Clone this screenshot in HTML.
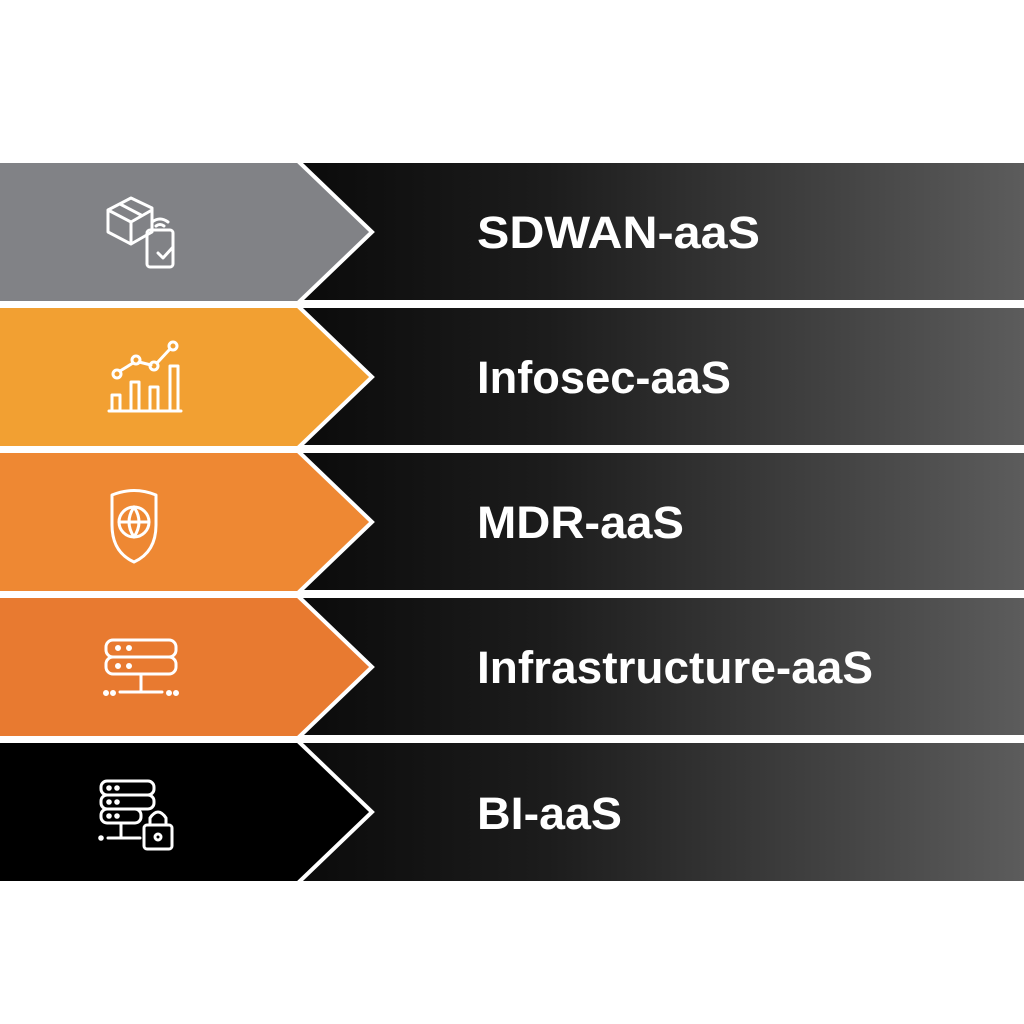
<!DOCTYPE html>
<html><head><style>html,body{margin:0;padding:0;background:#fff;}svg{display:block}</style></head>
<body>
<svg width="1024" height="1024" viewBox="0 0 1024 1024" xmlns="http://www.w3.org/2000/svg">
<defs>
<linearGradient id="g" x1="0" x2="1" y1="0" y2="0">
<stop offset="0" stop-color="#0a0a0a"/><stop offset="0.35" stop-color="#1c1c1c"/><stop offset="1" stop-color="#5c5c5c"/>
</linearGradient>
</defs>
<rect width="1024" height="1024" fill="#fff"/>
<g>
<rect x="290" y="163" width="734" height="137" fill="url(#g)"/>
<rect x="290" y="308" width="734" height="137" fill="url(#g)"/>
<rect x="290" y="453" width="734" height="137" fill="url(#g)"/>
<rect x="290" y="598" width="734" height="137" fill="url(#g)"/>
<rect x="290" y="743" width="734" height="138" fill="url(#g)"/>
</g>
<g stroke="#fff" stroke-width="4" stroke-linejoin="miter">
<polygon points="-5,161 298,161 372,232 298,303 -5,303" fill="#818286"/>
<polygon points="-5,306 298,306 372,377 298,448 -5,448" fill="#f2a032"/>
<polygon points="-5,451 298,451 372,522 298,593 -5,593" fill="#ee8833"/>
<polygon points="-5,596 298,596 372,667 298,738 -5,738" fill="#e87a30"/>
<polygon points="-5,741 298,741 372,812 298,883 -5,883" fill="#000"/>
</g>
<g font-family="Liberation Sans, sans-serif" font-weight="bold" font-size="45" fill="#fff">
<text x="477" y="248" textLength="283" lengthAdjust="spacingAndGlyphs">SDWAN-aaS</text>
<text x="477" y="393" textLength="254" lengthAdjust="spacingAndGlyphs">Infosec-aaS</text>
<text x="477" y="538" textLength="207" lengthAdjust="spacingAndGlyphs">MDR-aaS</text>
<text x="477" y="683" textLength="396" lengthAdjust="spacingAndGlyphs">Infrastructure-aaS</text>
<text x="477" y="829" textLength="145" lengthAdjust="spacingAndGlyphs">BI-aaS</text>
</g>
<g fill="none" stroke="#fff" stroke-width="3" stroke-linecap="round" stroke-linejoin="round">
<!-- box icon -->
<path d="M108,210 L131,198 L152,208 L152,232 L131,244 L108,232 Z M108,210 L131,222 L152,210 M131,222 L131,244 M120,204 L141,215"/>
<rect x="147" y="230" width="26" height="37" rx="3"/>
<path d="M152,222 q8,-6 16,0 M156,226 q4,-3 8,0 M158,253 l5,5 l10,-11"/>
<!-- chart -->
<path d="M109,411 L181,411"/>
<rect x="112" y="395" width="8" height="16"/>
<rect x="131" y="382" width="8" height="29"/>
<rect x="150" y="387" width="8" height="24"/>
<rect x="170" y="366" width="8" height="45"/>
<circle cx="117" cy="374" r="4"/><circle cx="136" cy="360" r="4"/><circle cx="154" cy="366" r="4"/><circle cx="173" cy="346" r="4"/>
<path d="M120,371 L133,363 M139,362 L151,365 M157,363 L170,349"/>
<!-- shield -->
<path d="M112,495 Q134,486 156,495 L156,525 Q156,552 134,562 Q112,552 112,525 Z"/>
<circle cx="134" cy="522" r="15"/>
<path d="M119,522 L149,522 M134,507 Q124,522 134,537 Q144,522 134,507"/>
<!-- server -->
<rect x="106" y="640" width="70" height="17" rx="7"/>
<rect x="106" y="657" width="70" height="17" rx="7"/>
<path d="M141,674 L141,692 M120,692 L162,692"/>
<circle cx="118" cy="648" r="1.5" fill="#fff"/><circle cx="129" cy="648" r="1.5" fill="#fff"/>
<circle cx="118" cy="666" r="1.5" fill="#fff"/><circle cx="129" cy="666" r="1.5" fill="#fff"/>
<circle cx="106" cy="693" r="1.5" fill="#fff"/><circle cx="113" cy="693" r="1.5" fill="#fff"/>
<circle cx="169" cy="693" r="1.5" fill="#fff"/><circle cx="176" cy="693" r="1.5" fill="#fff"/>
<!-- server lock -->
<rect x="101" y="781" width="53" height="14" rx="6"/>
<rect x="101" y="795" width="53" height="14" rx="6"/>
<rect x="101" y="809" width="40" height="14" rx="6"/>
<path d="M121,823 L121,838 M108,838 L140,838"/>
<circle cx="109" cy="788" r="1.3" fill="#fff"/><circle cx="117" cy="788" r="1.3" fill="#fff"/>
<circle cx="109" cy="802" r="1.3" fill="#fff"/><circle cx="117" cy="802" r="1.3" fill="#fff"/>
<circle cx="109" cy="816" r="1.3" fill="#fff"/><circle cx="117" cy="816" r="1.3" fill="#fff"/>
<circle cx="101" cy="838" r="1.3" fill="#fff"/>
<rect x="144" y="825" width="28" height="24" rx="3"/>
<path d="M150,825 L150,818 Q158,806 166,818 L166,825"/>
<circle cx="158" cy="837" r="3"/>
</g>
</svg>
</body></html>
